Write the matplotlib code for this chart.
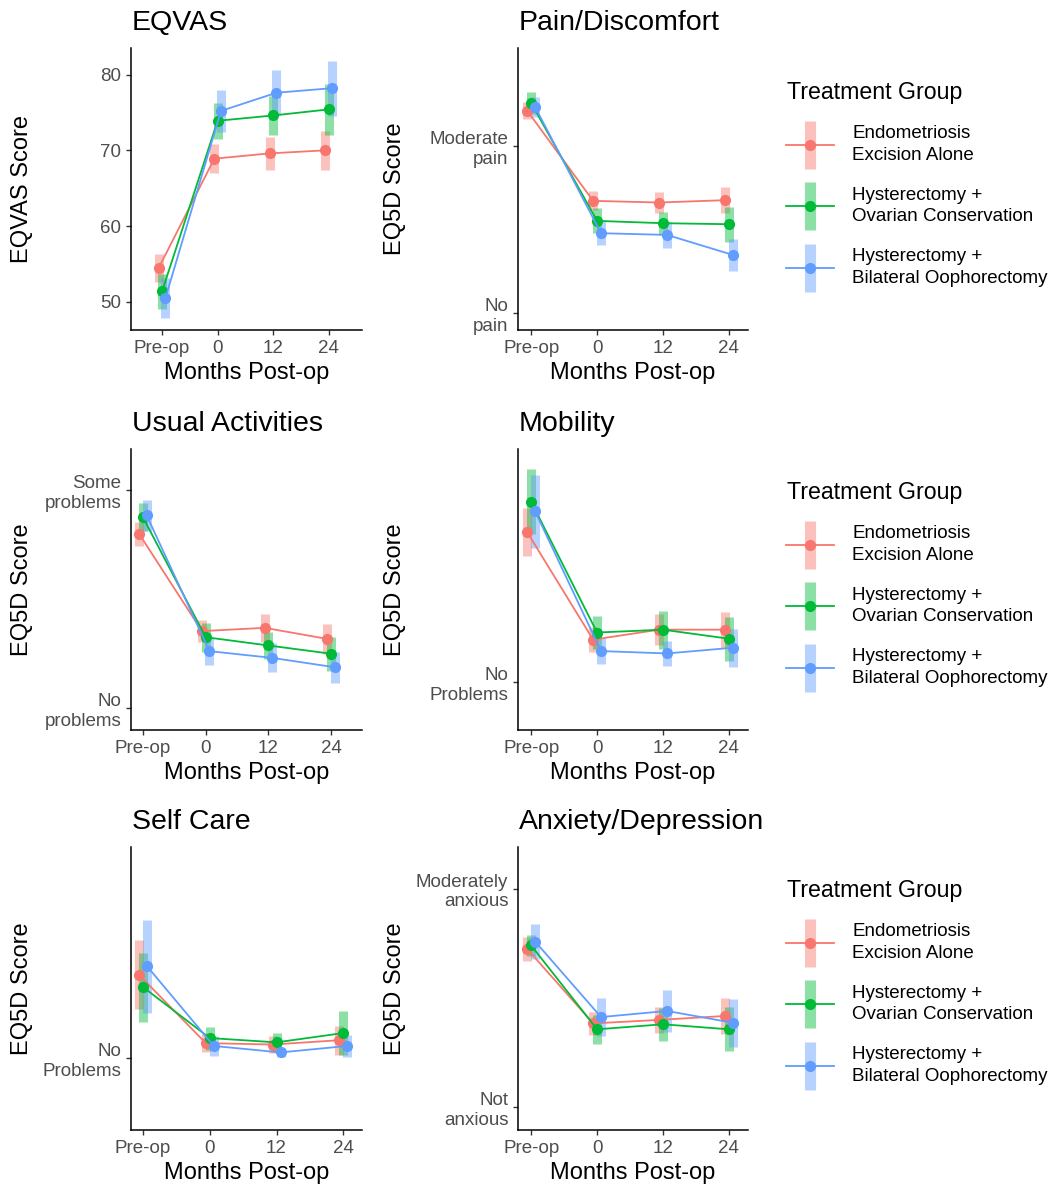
import matplotlib
matplotlib.use("Agg")
import matplotlib.pyplot as plt
from matplotlib.lines import Line2D
from matplotlib.legend_handler import HandlerTuple

plt.rcParams['font.family'] = ['Liberation Sans', 'DejaVu Sans']

# Grupos y tiempos
groups = ["Endometriosis\nExcision Alone",
          "Hysterectomy +\nOvarian Conservation",
          "Hysterectomy +\nBilateral Oophorectomy"]
colors = ["#F8766D", "#00BA38", "#619CFF"]
timepoints = ["Pre-op", "0", "12", "24"]

# Medias y semiamplitud del IC (rojo, verde, azul)
eqvas_mean = [[54.5, 68.9, 69.6, 70.0], [51.4, 73.9, 74.6, 75.4], [50.5, 75.2, 77.6, 78.2]]
eqvas_ci = [[1.85, 1.9, 2.15, 2.55], [2.3, 2.35, 2.6, 3.4], [2.65, 2.75, 2.95, 3.65]]

pain_mean = [[2.214, 1.674, 1.664, 1.678], [2.26, 1.554, 1.54, 1.534], [2.236, 1.48, 1.47, 1.35]]
pain_ci = [[0.052, 0.057, 0.062, 0.077], [0.065, 0.075, 0.07, 0.105], [0.06, 0.072, 0.077, 0.097]]

usual_mean = [[1.80, 1.354, 1.369, 1.318], [1.877, 1.326, 1.288, 1.25], [1.885, 1.262, 1.231, 1.188]]
usual_ci = [[0.054, 0.05, 0.065, 0.07], [0.065, 0.067, 0.061, 0.077], [0.07, 0.065, 0.067, 0.072]]

mobility_mean = [[1.316, 1.090, 1.111, 1.111], [1.380, 1.105, 1.111, 1.092], [1.360, 1.066, 1.061, 1.073]]
mobility_ci = [[0.05, 0.026, 0.033, 0.038], [0.068, 0.034, 0.04, 0.046], [0.077, 0.028, 0.027, 0.04]]

selfcare_mean = [[1.116, 1.021, 1.019, 1.025], [1.099, 1.028, 1.022, 1.035], [1.128, 1.017, 1.008, 1.017]]
selfcare_ci = [[0.048, 0.012, 0.012, 0.02], [0.048, 0.016, 0.013, 0.03], [0.065, 0.014, 0.006, 0.015]]

anxiety_mean = [[1.724, 1.384, 1.400, 1.418], [1.740, 1.357, 1.380, 1.357], [1.758, 1.413, 1.441, 1.387]]
anxiety_ci = [[0.054, 0.054, 0.06, 0.082], [0.05, 0.067, 0.075, 0.1], [0.08, 0.088, 0.096, 0.11]]

W, H = 1060, 1184
fig = plt.figure(figsize=(W / 100, H / 100), dpi=100)

# (titulo, ylabel, medias, ic, yticks, yticklabels, ylim, xlim, columna, fila)
panels = [
    ("EQVAS", "EQVAS Score", eqvas_mean, eqvas_ci, [50, 60, 70, 80], ["50", "60", "70", "80"],
     (46.3, 83.5), (-0.56, 3.6), 0, 0),
    ("Pain/Discomfort", "EQ5D Score", pain_mean, pain_ci, [1, 2], ["No\npain", "Moderate\npain"],
     (0.9, 2.59), (-0.2, 3.29), 1, 0),
    ("Usual Activities", "EQ5D Score", usual_mean, usual_ci, [1, 2], ["No\nproblems", "Some\nproblems"],
     (0.9, 2.19), (-0.19, 3.49), 0, 1),
    ("Mobility", "EQ5D Score", mobility_mean, mobility_ci, [1], ["No\nProblems"],
     (0.9, 1.491), (-0.2, 3.29), 1, 1),
    ("Self Care", "EQ5D Score", selfcare_mean, selfcare_ci, [1], ["No\nProblems"],
     (0.9, 1.294), (-0.18, 3.28), 0, 2),
    ("Anxiety/Depression", "EQ5D Score", anxiety_mean, anxiety_ci, [1, 2], ["Not\nanxious", "Moderately\nanxious"],
     (0.897, 2.19), (-0.2, 3.29), 1, 2),
]

col_x = [(131, 362), (518, 748)]
row_y = [(48, 330), (449, 730), (847, 1130)]
dodge = [-0.06, 0.0, 0.06]

for title, ylab, means, cis, yt, ytl, ylim, xlim, c, r in panels:
    x0, x1 = col_x[c]
    yt0, yb0 = row_y[r]
    ax = fig.add_axes([x0 / W, 1 - yb0 / H, (x1 - x0) / W, (yb0 - yt0) / H])
    xs = list(range(len(timepoints)))
    for g in range(3):
        xd = [x + dodge[g] for x in xs]
        lo = [m - e for m, e in zip(means[g], cis[g])]
        hi = [m + e for m, e in zip(means[g], cis[g])]
        ax.vlines(xd, lo, hi, colors=colors[g], linewidth=6.5, alpha=0.45)
    for g in range(3):
        xd = [x + dodge[g] for x in xs]
        ax.plot(xd, means[g], color=colors[g], linewidth=1.3, marker='o', markersize=7)
    ax.set_xlim(*xlim)
    ax.set_ylim(*ylim)
    ax.set_xticks(xs)
    ax.set_xticklabels(timepoints)
    ax.set_yticks(yt)
    ax.set_yticklabels(ytl)
    for s in ["top", "right"]:
        ax.spines[s].set_visible(False)
    for s in ["left", "bottom"]:
        ax.spines[s].set_linewidth(1.1)
    ax.tick_params(colors="#333333", labelcolor="#4D4D4D", labelsize=13.5, length=3.5, width=1)
    for lbl in ax.get_yticklabels():
        lbl.set_multialignment('right')
    ax.set_xlabel("Months Post-op", fontsize=17)
    ax.xaxis.set_label_coords(0.5, -43 / (yb0 - yt0))
    ax.xaxis.label.set_va('center')
    ylab_x = 22 if c == 0 else 395
    ax.set_ylabel(ylab, fontsize=17)
    ax.yaxis.set_label_coords((ylab_x - x0) / (x1 - x0), 0.5)
    ax.yaxis.label.set_va('center')
    ax.text(0.003, 1 + 18 / (yb0 - yt0), title, transform=ax.transAxes,
            fontsize=20.5, ha='left', va='baseline')

# Leyendas (una por fila)
handles = []
for g in range(3):
    bar = Line2D([], [], color=colors[g], marker='|', markersize=35, markeredgewidth=8,
                 alpha=0.45, linestyle='none')
    ln = Line2D([], [], color=colors[g], linewidth=1.3, marker='o', markersize=7)
    handles.append((bar, ln))

for r, off in enumerate([0, 400, 798]):
    fig.text(787 / W, 1 - (92 + off) / H, "Treatment Group", fontsize=16.7,
             ha='left', va='center')
    leg = fig.legend(handles, groups, loc='upper left',
                     bbox_to_anchor=(778 / W, 1 - (118 + off) / H),
                     fontsize=13.5, frameon=False, handlelength=2.6, handletextpad=0.96,
                     labelspacing=1.22, borderaxespad=0,
                     handler_map={tuple: HandlerTuple(ndivide=1)})
    for t in leg.get_texts():
        t.set_linespacing(1.35)

fig.savefig("out.png", dpi=100)
